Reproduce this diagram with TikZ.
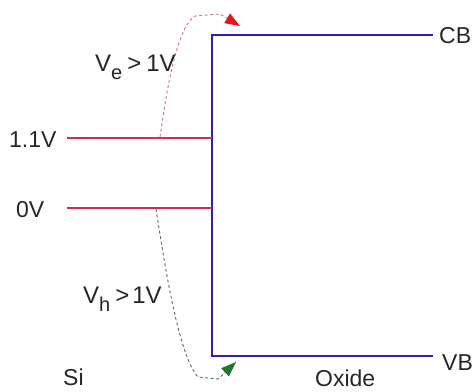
\documentclass[tikz,border=0pt]{standalone}
\usepackage{fontspec}
\setmainfont{Liberation Sans}
\usetikzlibrary{arrows.meta}
\definecolor{bandblue}{RGB}{45,35,170}
\definecolor{lvlred}{RGB}{215,45,75}
\definecolor{arrgreen}{RGB}{30,120,40}
\definecolor{arrred}{RGB}{230,20,30}
\definecolor{jumpred}{RGB}{200,120,130}
\begin{document}
\begin{tikzpicture}[x=1pt,y=-1pt,
  lbl/.style={font=\fontsize{23}{25}\selectfont,inner sep=0pt,text=black!85,anchor=base west},
  vlbl/.style={lbl,font=\fontsize{24}{26}\selectfont},
  band/.style={draw=bandblue,line width=1.6pt},
  lvl/.style={draw=lvlred,line width=1.3pt},
  jump/.style={dash pattern=on 3pt off 2.5pt,line width=0.9pt}]
\useasboundingbox (0,0) rectangle (476,391);
% oxide bands
\coordinate (cbl) at (212,35);
\coordinate (cbr) at (433,35);
\coordinate (vbl) at (212,356);
\coordinate (vbr) at (433,356);
\draw[band] (cbr) -- (cbl) -- (vbl) -- (vbr);
\node[lbl] (cb) at (439,43) {CB};
\node[lbl] (vb) at (442,370) {VB};
% Si levels
\node[lbl] (l11) at (9,147) {1.1V};
\node[lbl] (l0) at (16,217) {0V};
\coordinate (e1) at (212,138);
\coordinate (e0) at (212,208);
\coordinate (b1) at (67,138);
\coordinate (b0) at (67,208);
\draw[lvl] (b1) -- (e1);
\draw[lvl] (b0) -- (e0);
% jumps
\coordinate (s1) at (160,137);
\coordinate (s0) at (156,209);
\draw[jump,draw=jumpred,-{Triangle[length=15pt,width=11pt,fill=arrred,color=arrred]}] (s1) .. controls (166,95) and (176,28) .. (195,16) -- (220,14) -- (240,26);
\draw[jump,draw=gray!80!black,-{Triangle[length=15pt,width=11pt,fill=arrgreen,color=arrgreen]}] (s0) .. controls (164,260) and (178,355) .. (198,377) -- (218,379) -- (236,362);
\node[vlbl] (ve) at (95,71) {V\raisebox{-8pt}{\fontsize{20}{20}\selectfont e}\hspace{5pt}>\hspace{5pt}1V};
\node[vlbl] (vh) at (83,303) {V\raisebox{-8pt}{\fontsize{20}{20}\selectfont h}\hspace{5pt}>\hspace{3pt}1V};
\node[lbl] (si) at (63,385) {Si};
\node[lbl] (ox) at (315,386) {Oxide};
\end{tikzpicture}
\end{document}
